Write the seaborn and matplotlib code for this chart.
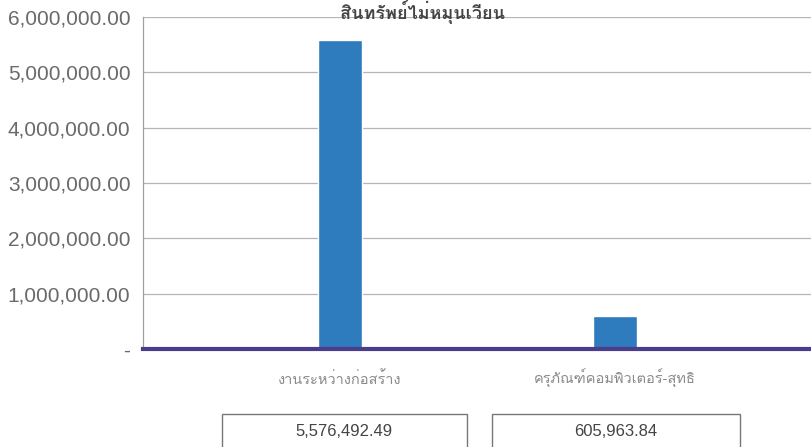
import numpy as np
import pandas as pd
import matplotlib
matplotlib.use("Agg")
import matplotlib.pyplot as plt
import matplotlib.transforms as mtransforms
from matplotlib import font_manager, ft2font
from matplotlib.patches import Rectangle
from matplotlib.ticker import FuncFormatter
import seaborn as sns

# --- Data ---
categories = ["งานระหว่างก่อสร้าง", "ครุภัณฑ์คอมพิวเตอร์-สุทธิ"]
values = [5576492.49, 605963.84]
value_labels = ["5,576,492.49", "605,963.84"]
y_ticks = [0, 1000000, 2000000, 3000000, 4000000, 5000000, 6000000]
title = "สินทรัพย์ไม่หมุนเวียน"


# find an installed family that has Thai glyphs
def thai_family():
    for f in font_manager.fontManager.ttflist:
        try:
            cmap = ft2font.FT2Font(f.fname).get_charmap()
        except Exception:
            continue
        if 0x0E01 in cmap and 0x0E34 in cmap:
            return f.name
    return None


sns.set_style("white")
families = ["Liberation Sans", "Noto Sans", "DejaVu Sans"]
th = thai_family()
if th:
    families.append(th)
plt.rcParams["font.family"] = families

df = pd.DataFrame({"cat": categories, "val": values})

fig = plt.figure(figsize=(8.12, 4.47), dpi=100)
ax = fig.add_axes([0.176, 0.219, 0.824, 0.743])

sns.barplot(data=df, x="cat", y="val", color="#2e7bbd", width=0.16,
            saturation=1, ax=ax)

ax.set_xlim(-0.716, 1.716)
ax.set_ylim(0, 6000000)
ax.set_yticks(y_ticks)
ax.yaxis.set_major_formatter(FuncFormatter(lambda v, p: "-" if v == 0 else f"{v:,.2f}"))
ax.tick_params(axis="y", labelsize=15, labelcolor="#6a6a6a", length=3, color="#999999", pad=6)
ax.tick_params(axis="x", length=0, labelbottom=False)
ax.grid(axis="y", color="#b5b5b5", linewidth=0.9)
ax.set_axisbelow(True)
ax.set_xlabel("")
ax.set_ylabel("")

for s in ["top", "right"]:
    ax.spines[s].set_visible(False)
ax.spines["left"].set_color("#a0a0a0")
ax.spines["left"].set_linewidth(0.9)
ax.spines["bottom"].set_color("#4b3d8c")
ax.spines["bottom"].set_linewidth(3)

# category labels and value table
trans = mtransforms.blended_transform_factory(ax.transData, ax.transAxes)
box_spans = [(-0.429, 0.462), (0.553, 1.455)]
for i, cat in enumerate(categories):
    ax.text(i, -0.089, cat, transform=trans, ha="center", va="center",
            fontsize=10.5, color="#8a8a8a", clip_on=False)
    x0, x1 = box_spans[i]
    ax.add_patch(Rectangle((x0, -0.35), x1 - x0, 0.155, transform=trans,
                           fill=False, edgecolor="#777777", linewidth=1, clip_on=False))
    ax.text((x0 + x1) / 2, -0.248, value_labels[i], transform=trans, ha="center",
            va="center", fontsize=12, color="#444444", clip_on=False)

fig.text(0.52, 0.999, title, ha="center", va="top", fontsize=13,
         fontweight="bold", color="#444444")

fig.savefig("out.png", dpi=100)
